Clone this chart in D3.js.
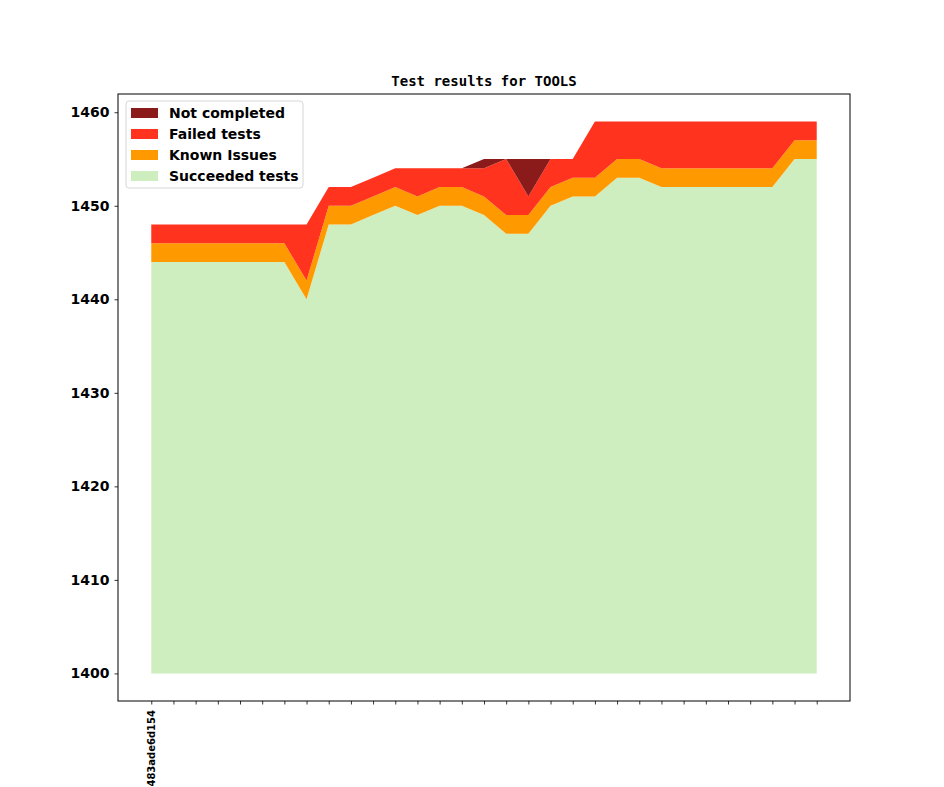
<!DOCTYPE html>
<html lang="en">
<head>
<meta charset="utf-8">
<title>Test results for TOOLS</title>
<script src="https://d3js.org/d3.v7.min.js"></script>
<style>
  body { margin: 0; background: #fff; }
  text { font-family: "DejaVu Sans", sans-serif; font-weight: bold; }
</style>
</head>
<body>
<div id="chart"></div>
<script>
// one entry per build, only the first carries a label
var builds = ["483ade6d154"];
for (var k = 1; k < 31; k++) builds.push("");

var succeeded = [1444, 1444, 1444, 1444, 1444, 1444, 1444, 1440, 1448, 1448,
                 1449, 1450, 1449, 1450, 1450, 1449, 1447, 1447, 1450, 1451,
                 1451, 1453, 1453, 1452, 1452, 1452, 1452, 1452, 1452, 1455, 1455];
var knownIssues = [2, 2, 2, 2, 2, 2, 2, 2, 2, 2,
                   2, 2, 2, 2, 2, 2, 2, 2, 2, 2,
                   2, 2, 2, 2, 2, 2, 2, 2, 2, 2, 2];
var failed = [2, 2, 2, 2, 2, 2, 2, 6, 2, 2,
              2, 2, 3, 2, 2, 3, 6, 2, 3, 2,
              6, 4, 4, 5, 5, 5, 5, 5, 5, 2, 2];
var notCompleted = [0, 0, 0, 0, 0, 0, 0, 0, 0, 0,
                    0, 0, 0, 0, 0, 1, 0, 4, 0, 0,
                    0, 0, 0, 0, 0, 0, 0, 0, 0, 0, 0];
var yTicks = [1400, 1410, 1420, 1430, 1440, 1450, 1460];
var baseLine = 1400;

var keys = ["succeeded", "known", "failed", "notCompleted"];
var labels = {succeeded: "Succeeded tests", known: "Known Issues",
              failed: "Failed tests", notCompleted: "Not completed"};
var colors = {succeeded: "#cfeebf", known: "#ff9900",
              failed: "#ff331e", notCompleted: "#8b1a1a"};

var rows = builds.map(function(b, i) {
    return {i: i, succeeded: succeeded[i], known: knownIssues[i],
            failed: failed[i], notCompleted: notCompleted[i]};
});

var width = 944, height = 787;
var plotLeft = 118, plotRight = 850, plotTop = 94, plotBottom = 701;

var svg = d3.select("#chart").append("svg")
    .attr("width", width)
    .attr("height", height);

var series = d3.stack().keys(keys)(rows);

// matplotlib style 5% margins
var n = rows.length - 1;
var x = d3.scaleLinear()
    .domain([-0.05 * n, n * 1.05])
    .range([plotLeft, plotRight]);

var yMax = d3.max(series[series.length - 1], d => d[1]);
var pad = (yMax - baseLine) * 0.05;
var y = d3.scaleLinear()
    .domain([baseLine - pad, yMax + pad])
    .range([plotBottom, plotTop]);

var area = d3.area()
    .x(d => x(d.data.i))
    .y0(d => y(Math.max(d[0], baseLine)))
    .y1(d => y(d[1]));

svg.selectAll("path.layer")
    .data(series)
    .enter()
    .append("path")
    .attr("class", "layer")
    .attr("fill", d => colors[d.key])
    .attr("d", area);

// axes
var xAxis = d3.axisBottom(x)
    .tickValues(rows.map(d => d.i))
    .tickSize(3.5)
    .tickFormat(i => builds[i]);

var gx = svg.append("g")
    .attr("transform", "translate(0," + plotBottom + ")")
    .call(xAxis);
gx.select(".domain").remove();
gx.selectAll("text")
    .attr("font-size", "10px")
    .attr("transform", "rotate(-90)")
    .attr("text-anchor", "end")
    .attr("x", -9)
    .attr("y", 0)
    .attr("dy", "0.35em");

var yAxis = d3.axisLeft(y)
    .tickValues(yTicks)
    .tickSize(3.5)
    .tickPadding(5)
    .tickFormat(d3.format("d"));

var gy = svg.append("g")
    .attr("transform", "translate(" + plotLeft + ",0)")
    .call(yAxis);
gy.select(".domain").remove();
gy.selectAll("text").attr("font-size", "14px");
svg.selectAll(".tick line").attr("stroke", "#000").attr("stroke-width", 0.8);

svg.append("rect")
    .attr("x", plotLeft)
    .attr("y", plotTop)
    .attr("width", plotRight - plotLeft)
    .attr("height", plotBottom - plotTop)
    .attr("fill", "none")
    .attr("stroke", "#000")
    .attr("stroke-width", 1);

// title
svg.append("text")
    .attr("x", (plotLeft + plotRight) / 2)
    .attr("y", 86)
    .attr("text-anchor", "middle")
    .style("font-family", "'DejaVu Sans Mono', monospace")
    .attr("font-size", "14px")
    .text("Test results for TOOLS");

// legend
var legendKeys = keys.slice().reverse();
var legend = svg.append("g").attr("transform", "translate(126,101)");
legend.append("rect")
    .attr("width", 177)
    .attr("height", 87)
    .attr("rx", 3)
    .attr("fill", "#fff")
    .attr("fill-opacity", 0.8)
    .attr("stroke", "#d6d6d6");

var items = legend.selectAll("g.item")
    .data(legendKeys)
    .enter()
    .append("g")
    .attr("class", "item")
    .attr("transform", (d, i) => "translate(0," + (12 + i * 21) + ")");

items.append("rect")
    .attr("x", 5)
    .attr("y", -5)
    .attr("width", 27)
    .attr("height", 10)
    .attr("fill", d => colors[d]);

items.append("text")
    .attr("x", 43)
    .attr("y", 0)
    .attr("dy", "0.36em")
    .attr("font-size", "14px")
    .text(d => labels[d]);
</script>
</body>
</html>
